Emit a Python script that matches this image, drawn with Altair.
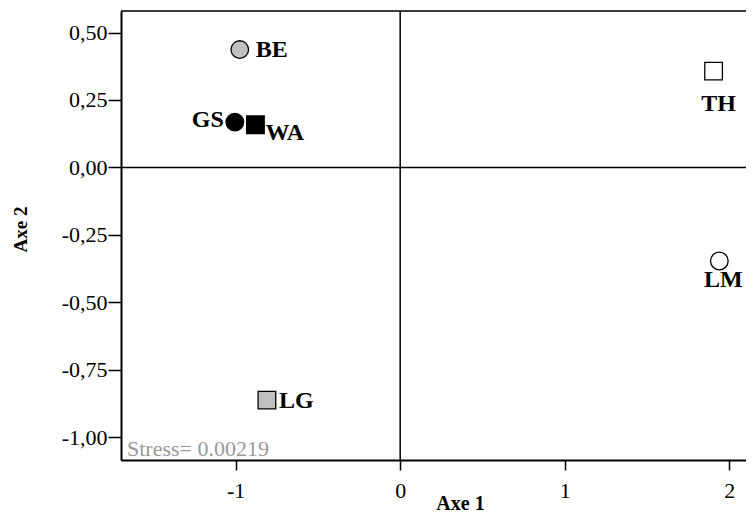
import altair as alt
import pandas as pd

# ---- data ----
sites = ["BE", "GS", "WA", "TH", "LM", "LG"]
axe1 = [-0.975, -1.005, -0.88, 1.905, 1.94, -0.81]
axe2 = [0.437, 0.168, 0.158, 0.357, -0.347, -0.863]
symbol = ["circle", "circle", "square", "square", "circle", "square"]
fill_kind = ["grey", "black", "black", "white", "white", "grey"]

y_ticks = [-1.0, -0.75, -0.5, -0.25, 0.0, 0.25, 0.5]
x_ticks = [-1, 0, 1, 2]
stress_text = "Stress= 0.00219"

df = pd.DataFrame({"site": sites, "x": axe1, "y": axe2,
                   "shape": symbol, "fillk": fill_kind})

XMIN, XMAX = -1.697, 2.102
YMIN, YMAX = -1.085, 0.580
W, H = 625, 449
FONT = "Liberation Serif"

xs = alt.Scale(domain=[XMIN, XMAX], nice=False, zero=False)
ys = alt.Scale(domain=[YMIN, YMAX], nice=False, zero=False)

xaxis = alt.Axis(values=x_ticks, title="Axe 1", grid=False,
                 labelExpr="(datum.value < 0 ? '-' : '') + format(abs(datum.value), 'd')",
                 labelFont=FONT, labelFontSize=22, labelColor="black", labelPadding=10,
                 tickSize=10, tickWidth=1.5, tickColor="black",
                 domainColor="black", domainWidth=2,
                 titleFont=FONT, titleFontSize=20, titleFontWeight="bold", titleColor="black",
                 titleX=339, titleY=49, titleBaseline="alphabetic", titleAnchor="middle")
yaxis = alt.Axis(values=y_ticks, title="Axe 2", grid=False,
                 labelExpr="(datum.value < 0 ? '-' : '') + replace(format(abs(datum.value), '.2f'), '.', ',')",
                 labelFont=FONT, labelFontSize=22, labelColor="black", labelPadding=1,
                 tickSize=13, tickWidth=1.5, tickColor="black",
                 domainColor="black", domainWidth=2,
                 titleFont=FONT, titleFontSize=19, titleFontWeight="bold", titleColor="black",
                 titleX=-101, titleY=218, titleAngle=270, titleBaseline="middle", titleAnchor="middle")

base = alt.Chart(df)

points = base.mark_point(filled=True, size=310, stroke="black", strokeWidth=1.3, opacity=1).encode(
    x=alt.X("x:Q", scale=xs, axis=xaxis),
    y=alt.Y("y:Q", scale=ys, axis=yaxis),
    shape=alt.Shape("shape:N", scale=alt.Scale(domain=["circle", "square"], range=["circle", "square"]), legend=None),
    fill=alt.Fill("fillk:N", scale=alt.Scale(domain=["grey", "black", "white"],
                                             range=["#c0c0c0", "#000000", "#ffffff"]), legend=None),
)

def labels(names, **kw):
    return base.transform_filter(alt.FieldOneOfPredicate(field="site", oneOf=names)).mark_text(
        font=FONT, fontSize=24, fontWeight="bold", color="black", **kw
    ).encode(x=alt.X("x:Q", scale=xs), y=alt.Y("y:Q", scale=ys), text="site:N")

lab_be = labels(["BE"], align="left", baseline="middle", dx=16, dy=0)
lab_lg = labels(["LG"], align="left", baseline="middle", dx=12, dy=1)
lab_wa = labels(["WA"], align="left", baseline="middle", dx=10, dy=8)
lab_gs = labels(["GS"], align="right", baseline="middle", dx=-11, dy=-2)
lab_th = labels(["TH"], align="center", baseline="middle", dx=5, dy=33)
lab_lm = labels(["LM"], align="center", baseline="middle", dx=4, dy=19)

zero_df = pd.DataFrame({"v": [0]})
vline = alt.Chart(zero_df).mark_rule(color="black", strokeWidth=1.5).encode(x=alt.X("v:Q", scale=xs))
hline = alt.Chart(zero_df).mark_rule(color="black", strokeWidth=1.5).encode(y=alt.Y("v:Q", scale=ys))
top_df = pd.DataFrame({"v": [YMAX]})
topline = alt.Chart(top_df).mark_rule(color="black", strokeWidth=1.5).encode(y=alt.Y("v:Q", scale=ys))

stress = alt.Chart(pd.DataFrame({"t": [stress_text]})).mark_text(
    font=FONT, fontSize=22, color="#999999", align="left", baseline="alphabetic"
).encode(x=alt.value(6), y=alt.value(H - 4), text="t:N")

chart = alt.layer(vline, hline, topline, points, lab_be, lab_lg, lab_wa, lab_gs, lab_th, lab_lm, stress).properties(
    width=W, height=H,
    autosize=alt.AutoSizeParams(type="none"),
    padding={"left": 113, "top": 3, "right": 0, "bottom": 53},
).configure_view(stroke=None).configure(background="white")

chart.save("out.html", embed_options={"renderer": "svg", "actions": False})
